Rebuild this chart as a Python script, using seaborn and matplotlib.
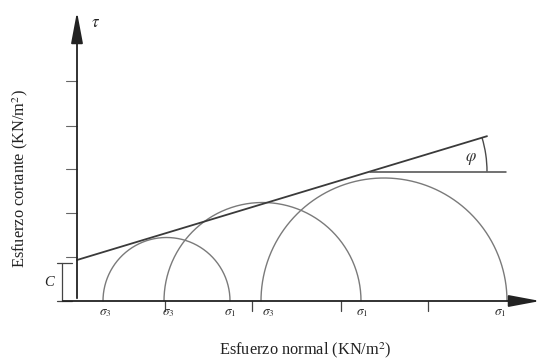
import numpy as np
import pandas as pd
import matplotlib
matplotlib.use("Agg")
import matplotlib.pyplot as plt
import seaborn as sns
from matplotlib.patches import Arc

sns.set_theme(style="white")
plt.rcParams['font.family'] = ['Liberation Serif', 'DejaVu Serif']
plt.rcParams['mathtext.fontset'] = 'stix'

# Mohr circles (stress units, arbitrary)
sigma3 = [26, 87, 184]
sigma1 = [153, 284, 430]
circle_names = ["Ensayo 1", "Ensayo 2", "Ensayo 3"]

# Failure envelope: tau = c + sigma * tan(phi)
cohesion = 41
tan_phi = 0.302
envelope_sigma = [0, 410]

# Axis tick positions
x_ticks = [88, 175, 264, 351]
y_ticks = [44, 88, 132, 175, 220]

sigma_labels = [r"$\sigma_3$", r"$\sigma_3$", r"$\sigma_1$", r"$\sigma_3$", r"$\sigma_1$", r"$\sigma_1$"]

fig = plt.figure(figsize=(5.44, 3.6), dpi=100)
ax = fig.add_axes([0, 0, 1, 1])
ax.set_xlim(-77, 467)
ax.set_ylim(-59, 301)
ax.axis("off")

# circles
theta = np.linspace(0, np.pi, 300)
rows = []
for name, s3, s1 in zip(circle_names, sigma3, sigma1):
    c = (s1 + s3) / 2
    r = (s1 - s3) / 2
    for t in theta:
        rows.append({"name": name, "sigma": c + r * np.cos(t), "tau": r * np.sin(t), "t": t})
df_c = pd.DataFrame(rows)
sns.lineplot(data=df_c, x="sigma", y="tau", units="name", estimator=None, sort=False,
             color="#7a7a7a", lw=1.0, ax=ax, legend=False)

# envelope
env = pd.DataFrame({"sigma": envelope_sigma,
                    "tau": [cohesion + s * tan_phi for s in envelope_sigma]})
sns.lineplot(data=env, x="sigma", y="tau", color="#3a3a3a", lw=1.3, ax=ax, legend=False)

# horizontal reference for phi
tp_sigma = 293
tp_tau = cohesion + tp_sigma * tan_phi
ax.plot([tp_sigma, 429], [tp_tau, tp_tau], color="#4a4a4a", lw=1.1)
phi_deg = np.degrees(np.arctan(tan_phi))
ax.add_patch(Arc((tp_sigma, tp_tau), 234, 234, theta1=0, theta2=phi_deg, color="#4a4a4a", lw=1.0))
ax.text(394, 142, r"$\varphi$", fontsize=12, ha="center", va="center", color="#333333")

# axes with arrows
ax.annotate("", xy=(466, 0), xytext=(-17, 0),
            arrowprops=dict(arrowstyle="-|>,head_length=1.6,head_width=0.3", color="#222222", lw=1.3))
ax.annotate("", xy=(0, 292), xytext=(0, 0),
            arrowprops=dict(arrowstyle="-|>,head_length=1.6,head_width=0.3", color="#222222", lw=1.3))
ax.text(19, 278, r"$\tau$", fontsize=12, ha="center", va="center", color="#222222")

# ticks
for xt in x_ticks:
    ax.plot([xt, xt], [0, -10], color="#444444", lw=0.9)
for yt in y_ticks:
    ax.plot([-11, 0], [yt, yt], color="#666666", lw=0.8)

# cohesion bracket
ax.plot([-15, -15], [0, 38], color="#444444", lw=0.9)
ax.plot([-20, -5], [38, 38], color="#444444", lw=0.9)
ax.plot([-20, -5], [0, 0], color="#444444", lw=0.9)
ax.text(-28, 19, "C", fontsize=10.5, ha="center", va="center", style="italic", color="#222222")

# sigma labels
label_pos = [28, 91, 153, 191, 285, 423]
for xp, lab in zip(label_pos, sigma_labels):
    ax.text(xp, -12, lab, fontsize=9.5, ha="center", va="center", color="#333333")

ax.text(228, -49, "Esfuerzo normal (KN/m$^2$)", fontsize=11.8, ha="center", va="center", color="#222222")
ax.text(-57, 122, "Esfuerzo cortante (KN/m$^2$)", fontsize=11.8, ha="center", va="center",
        rotation=90, color="#222222")

fig.savefig("out.png", dpi=100)
